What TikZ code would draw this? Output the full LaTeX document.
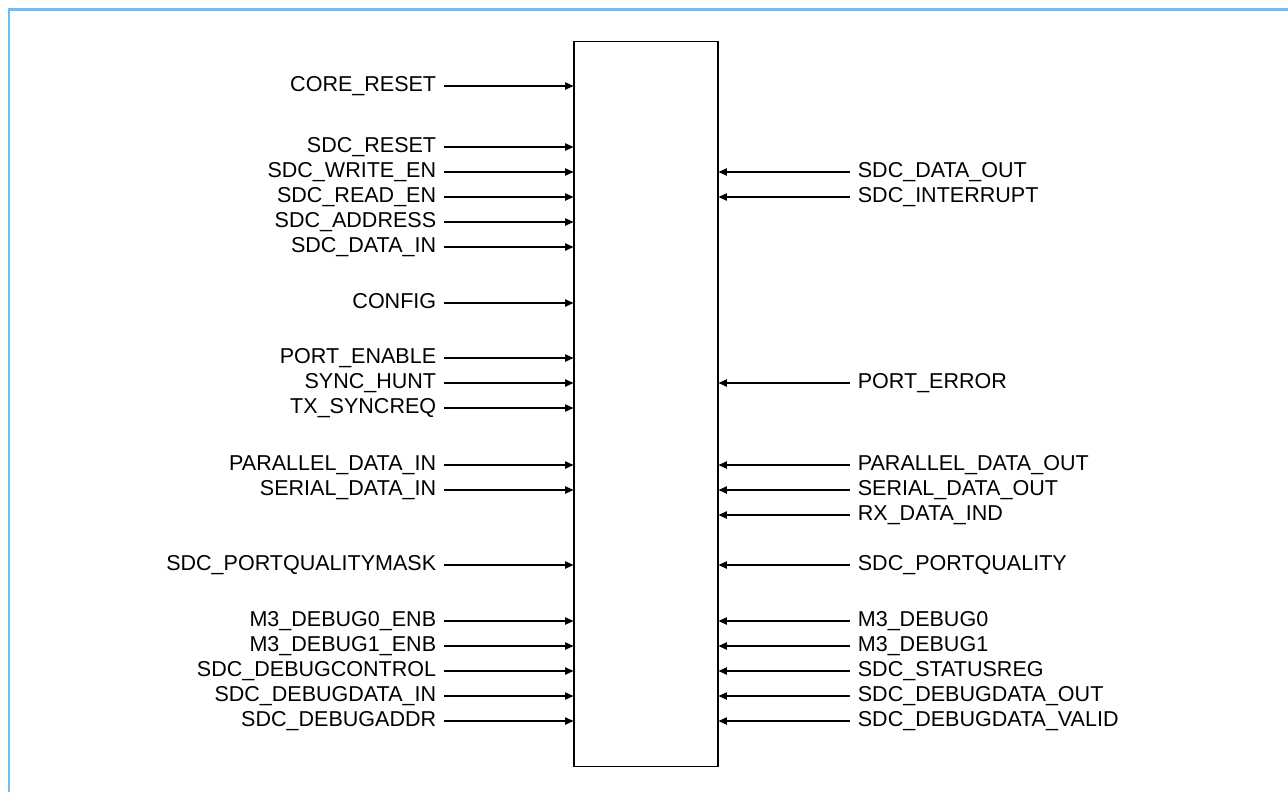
\documentclass[tikz,border=0pt]{standalone}
\usepackage{fontspec}
\setmainfont{Liberation Sans}
\usepackage{tikz}
\usetikzlibrary{arrows.meta, positioning}
\definecolor{frameblue}{HTML}{6BBEF6}

\begin{document}
\begin{tikzpicture}[
  x=0.02cm, y=-0.02cm,
  port/.style={font=\fontsize{12.25}{14}\selectfont, inner xsep=0.15cm, inner ysep=0pt, text height=0.7em, text depth=0.12em},
  inport/.style={port, anchor=east},
  outport/.style={port, anchor=west},
  wire/.style={-{Triangle[length=4.8pt, width=4.2pt]}, line width=0.6pt},
]
\useasboundingbox (0,0) rectangle (1288,792);
\draw[frameblue, line width=1.6pt] (9,792) -- (9,9.5) -- (1288,9.5);

% block
\node[draw, line width=0.6pt, minimum width=2.88cm, minimum height=14.52cm, inner sep=0pt] (blk) at (646,404) {};

% inputs
\node[inport] (corereset) at (444,86) {CORE\_RESET};
\node[inport] (sdcreset) at (444,147) {SDC\_RESET};
\node[inport] (sdcwriteen) at (444,172) {SDC\_WRITE\_EN};
\node[inport] (sdcreaden) at (444,197) {SDC\_READ\_EN};
\node[inport] (sdcaddress) at (444,222) {SDC\_ADDRESS};
\node[inport] (sdcdatain) at (444,247) {SDC\_DATA\_IN};
\node[inport] (config) at (444,303) {CONFIG};
\node[inport] (portenable) at (444,358) {PORT\_ENABLE};
\node[inport] (synchunt) at (444,383) {SYNC\_HUNT};
\node[inport] (txsyncreq) at (444,408) {TX\_SYNCREQ};
\node[inport] (paralleldatain) at (444,465) {PARALLEL\_DATA\_IN};
\node[inport] (serialdatain) at (444,490) {SERIAL\_DATA\_IN};
\node[inport] (qualitymask) at (444,565) {SDC\_PORTQUALITYMASK};
\node[inport] (debugzeroenb) at (444,621) {M3\_DEBUG0\_ENB};
\node[inport] (debugoneenb) at (444,646) {M3\_DEBUG1\_ENB};
\node[inport] (debugcontrol) at (444,671) {SDC\_DEBUGCONTROL};
\node[inport] (debugdatain) at (444,696) {SDC\_DEBUGDATA\_IN};
\node[inport] (debugaddr) at (444,721) {SDC\_DEBUGADDR};

% outputs
\node[outport] (sdcdataout) at (850,172) {SDC\_DATA\_OUT};
\node[outport] (sdcinterrupt) at (850,197) {SDC\_INTERRUPT};
\node[outport] (porterror) at (850,383) {PORT\_ERROR};
\node[outport] (paralleldataout) at (850,465) {PARALLEL\_DATA\_OUT};
\node[outport] (serialdataout) at (850,490) {SERIAL\_DATA\_OUT};
\node[outport] (rxdataind) at (850,515) {RX\_DATA\_IND};
\node[outport] (portquality) at (850,565) {SDC\_PORTQUALITY};
\node[outport] (debugzero) at (850,621) {M3\_DEBUG0};
\node[outport] (debugone) at (850,646) {M3\_DEBUG1};
\node[outport] (statusreg) at (850,671) {SDC\_STATUSREG};
\node[outport] (debugdataout) at (850,696) {SDC\_DEBUGDATA\_OUT};
\node[outport] (debugdatavalid) at (850,721) {SDC\_DEBUGDATA\_VALID};

\foreach \p in {corereset, sdcreset, sdcwriteen, sdcreaden, sdcaddress, sdcdatain, config, portenable, synchunt, txsyncreq, paralleldatain, serialdatain, qualitymask, debugzeroenb, debugoneenb, debugcontrol, debugdatain, debugaddr}
  \draw[wire] (\p.east) -- (\p.east -| blk.west);
\foreach \p in {sdcdataout, sdcinterrupt, porterror, paralleldataout, serialdataout, rxdataind, portquality, debugzero, debugone, statusreg, debugdataout, debugdatavalid}
  \draw[wire] (\p.west) -- (\p.west -| blk.east);
\end{tikzpicture}
\end{document}
